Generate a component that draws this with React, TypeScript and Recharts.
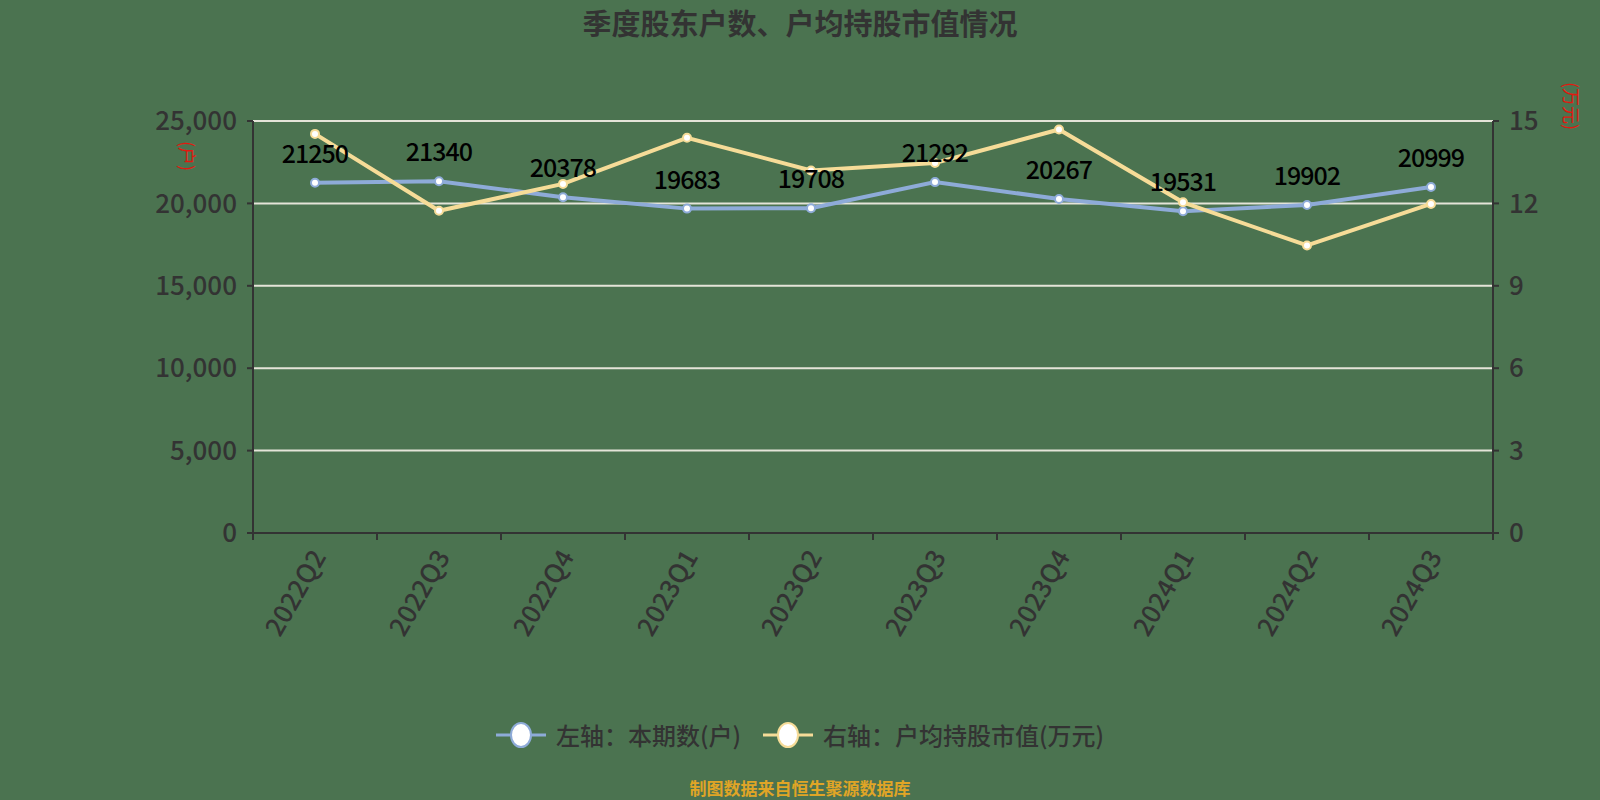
import React from 'react';
import {
  LineChart,
  Line,
  XAxis,
  YAxis,
  CartesianGrid,
  LabelList,
  Legend,
} from 'recharts';

const categories = ['2022Q2', '2022Q3', '2022Q4', '2023Q1', '2023Q2', '2023Q3', '2023Q4', '2024Q1', '2024Q2', '2024Q3'];
const holders = [21250, 21340, 20378, 19683, 19708, 21292, 20267, 19531, 19902, 20999];
const avgValue = [14.53, 11.73, 12.71, 14.39, 13.2, 13.47, 14.69, 12.04, 10.47, 11.98];
const leftTicks = [0, 5000, 10000, 15000, 20000, 25000];
const rightTicks = [0, 3, 6, 9, 12, 15];
const seriesNames = ['左轴：本期数(户)', '右轴：户均持股市值(万元)'];
const titleText = '季度股东户数、户均持股市值情况';
const footerText = '制图数据来自恒生聚源数据库';
const leftUnit = '(户)';
const rightUnit = '(万元)';

const data = categories.map((c, i) => ({ name: c, holders: holders[i], avg: avgValue[i] }));

const FONT = '"Noto Sans CJK SC", "Noto Sans", sans-serif';
const BG = '#4b7350';
const BLUE = '#8eabd8';
const YELLOW = '#f6dc98';
const AXIS = '#333333';

const W = 1600;
const H = 800;
const PLOT_LEFT = 253;
const PLOT_RIGHT = 1493;
const BAND = (PLOT_RIGHT - PLOT_LEFT) / categories.length;

const XTick = (props: any) => {
  const { x, y, payload, index } = props;
  const tx = x + 2;
  const ty = y + 18;
  return (
    <g>
      <line x1={x - BAND / 2} y1={y} x2={x - BAND / 2} y2={y + 7} stroke={AXIS} strokeWidth={2} />
      {index === categories.length - 1 && (
        <line x1={x + BAND / 2} y1={y} x2={x + BAND / 2} y2={y + 7} stroke={AXIS} strokeWidth={2} />
      )}
      <text
        x={tx}
        y={ty}
        transform={`rotate(-60, ${tx}, ${ty})`}
        textAnchor="end"
        dominantBaseline="central"
        fill={AXIS}
        fontSize={26}
        fontFamily={FONT}
        fontWeight={500}
      >
        {payload.value}
      </text>
    </g>
  );
};

const LegendIcon = ({ color }: { color: string }) => (
  <svg width={50} height={28} style={{ display: 'block' }}>
    <line x1={0} y1={14} x2={50} y2={14} stroke={color} strokeWidth={3} />
    <ellipse cx={25} cy={14} rx={10} ry={12} fill="#ffffff" stroke={color} strokeWidth={2} />
  </svg>
);

const CustomLegend = () => {
  const colors = [BLUE, YELLOW];
  return (
    <div style={{ display: 'flex', justifyContent: 'center', alignItems: 'center', width: '100%' }}>
      {seriesNames.map((n, i) => (
        <div key={n} style={{ display: 'flex', alignItems: 'center', marginLeft: i === 0 ? 0 : 22 }}>
          <LegendIcon color={colors[i]} />
          <span style={{ marginLeft: 10, fontSize: 24, color: '#333', fontFamily: FONT, fontWeight: 500, lineHeight: '28px' }}>{n}</span>
        </div>
      ))}
    </div>
  );
};

export default function App() {
  return (
    <div style={{ position: 'absolute', left: 0, top: 0, width: W, height: H, background: BG, overflow: 'hidden', fontFamily: FONT }}>
      <div
        style={{
          position: 'absolute',
          left: 0,
          width: W,
          top: 4,
          textAlign: 'center',
          fontSize: 29,
          fontWeight: 'bold',
          color: '#333',
          lineHeight: '36px',
        }}
      >
        {titleText}
      </div>
      <LineChart width={W} height={H} data={data} margin={{ top: 121, left: 153, right: 27, bottom: 147 }}>
        <CartesianGrid vertical={false} stroke="#e4e4d8" strokeWidth={2} yAxisId="left" />
        <XAxis
          dataKey="name"
          height={120}
          tickSize={0}
          tickMargin={0}
          interval={0}
          padding={{ left: BAND / 2, right: BAND / 2 }}
          axisLine={{ stroke: AXIS, strokeWidth: 2 }}
          tick={<XTick />}
        />
        <YAxis
          yAxisId="left"
          width={100}
          domain={[0, 25000]}
          ticks={leftTicks}
          tickFormatter={(v: number) => v.toLocaleString('en-US')}
          axisLine={{ stroke: AXIS, strokeWidth: 2 }}
          tickLine={{ stroke: AXIS, strokeWidth: 2 }}
          tickSize={6}
          tickMargin={10}
          tick={{ fill: AXIS, fontSize: 26, fontFamily: FONT, fontWeight: 500 }}
        />
        <YAxis
          yAxisId="right"
          orientation="right"
          width={80}
          domain={[0, 15]}
          ticks={rightTicks}
          axisLine={{ stroke: AXIS, strokeWidth: 2 }}
          tickLine={{ stroke: AXIS, strokeWidth: 2 }}
          tickSize={6}
          tickMargin={10}
          tick={{ fill: AXIS, fontSize: 26, fontFamily: FONT, fontWeight: 500 }}
        />
        <Line
          yAxisId="left"
          type="linear"
          dataKey="holders"
          name={seriesNames[0]}
          stroke={BLUE}
          strokeWidth={4}
          dot={{ r: 4, fill: '#ffffff', stroke: BLUE, strokeWidth: 2 }}
          isAnimationActive={false}
        />
        <Line
          yAxisId="right"
          type="linear"
          dataKey="avg"
          name={seriesNames[1]}
          stroke={YELLOW}
          strokeWidth={4}
          dot={{ r: 4, fill: '#ffffff', stroke: YELLOW, strokeWidth: 2 }}
          isAnimationActive={false}
        />
        <Line
          yAxisId="left"
          type="linear"
          dataKey="holders"
          stroke="none"
          dot={false}
          activeDot={false}
          legendType="none"
          isAnimationActive={false}
        >
          <LabelList
            dataKey="holders"
            position="top"
            offset={20}
            fill="#000000"
            fontSize={25}
            fontFamily={FONT}
            fontWeight={500}
            letterSpacing={-1}
          />
        </Line>
        <Legend
          layout="horizontal"
          verticalAlign="middle"
          align="center"
          content={<CustomLegend />}
          wrapperStyle={{ position: 'absolute', top: 721, left: 0, width: W, height: 28 }}
        />
      </LineChart>
      <div
        style={{
          position: 'absolute',
          left: 188 - 30,
          top: 156 - 12,
          width: 60,
          height: 24,
          textAlign: 'center',
          transform: 'rotate(90deg)',
          color: '#e0190f',
          fontSize: 18,
          lineHeight: '24px',
        }}
      >
        {leftUnit}
      </div>
      <div
        style={{
          position: 'absolute',
          left: 1572 - 40,
          top: 106 - 12,
          width: 80,
          height: 24,
          textAlign: 'center',
          transform: 'rotate(90deg)',
          color: '#e0190f',
          fontSize: 18,
          lineHeight: '24px',
        }}
      >
        {rightUnit}
      </div>
      <div
        style={{
          position: 'absolute',
          left: 0,
          width: W,
          top: 778,
          textAlign: 'center',
          fontSize: 17,
          fontWeight: 'bold',
          color: '#e0a526',
          lineHeight: '20px',
        }}
      >
        {footerText}
      </div>
    </div>
  );
}
